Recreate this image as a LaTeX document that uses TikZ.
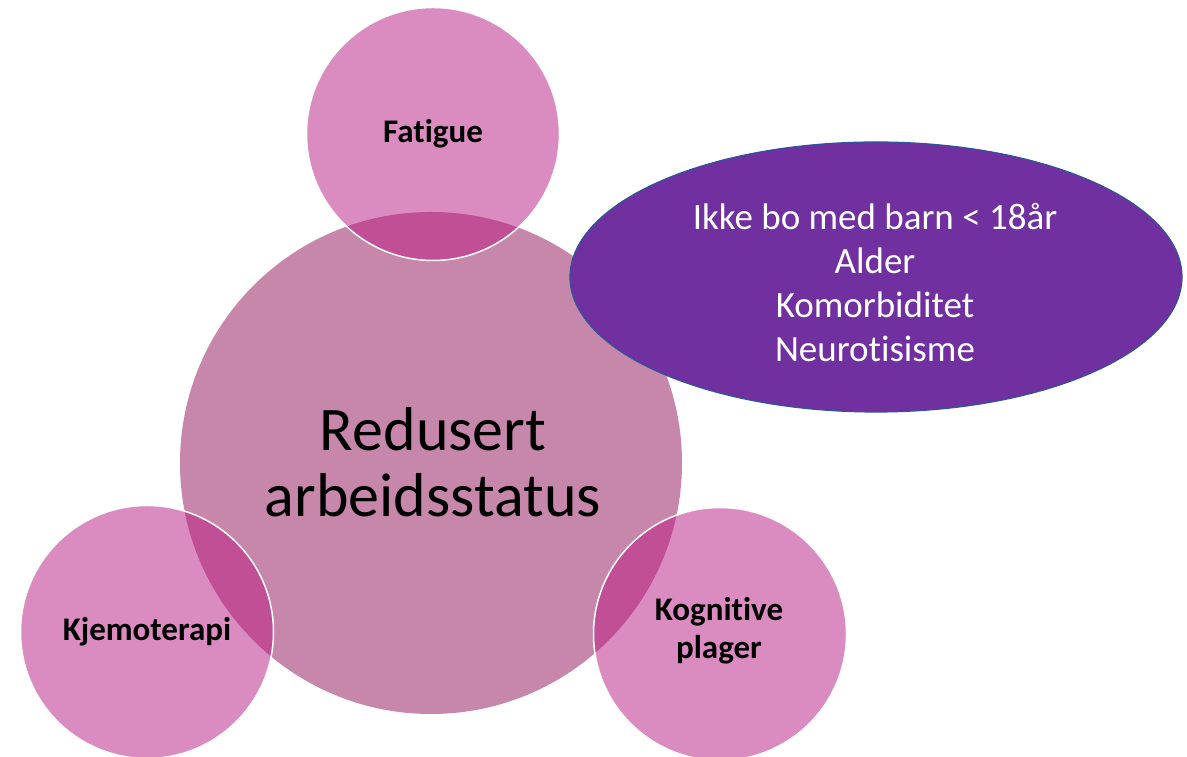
\documentclass[tikz,border=0pt]{standalone}
\usepackage{fontspec}
\setmainfont{Carlito}[Ligatures={NoCommon}]
\usetikzlibrary{shapes.geometric}
\definecolor{maincol}{HTML}{C687AA}
\definecolor{smallcol}{HTML}{DA8BC0}
\definecolor{overcol}{HTML}{C04F96}
\definecolor{ellcol}{HTML}{7030A0}
\definecolor{ellline}{HTML}{2F5597}
\tikzset{
  bigcirc/.style={circle, fill=maincol, minimum size=502pt, inner sep=0pt},
  smallcirc/.style={circle, fill=smallcol, minimum size=253pt, inner sep=0pt},
  ringline/.style={draw=white, line width=1.5pt},
  smalllabel/.style={font=\fontsize{33}{38}\selectfont\bfseries, align=center},
}
\begin{document}
\begin{tikzpicture}[x=1pt,y=1pt]
\useasboundingbox (0,0) rectangle (1187,757);
% main circle
\node[bigcirc] (main) at (431,294) {};
% small circles
\node[smallcirc] (fat) at (433,623) {};
\node[smallcirc] (kje) at (147,125) {};
\node[smallcirc] (kog) at (720,123) {};
% overlaps
\foreach \c in {fat,kje,kog}{
  \begin{scope}
    \clip (main.center) circle (251);
    \fill[overcol] (\c.center) circle (126.5);
  \end{scope}
  \draw[ringline] (\c.center) circle (126.5);
}
% labels
\node[smalllabel] (fatl) at (fat.center) {Fatigue};
\node[smalllabel] (kjel) at (kje.center) {Kjemoterapi};
\node[smalllabel] (kogl) at (719,126) {Kognitive\\plager};
\node[font=\fontsize{62}{66}\selectfont, align=center] (mainl) at (433,295) {Redusert\\arbeidsstatus};
% ellipse
\node[ellipse, fill=ellcol, draw=ellline, line width=1.2pt, minimum width=612pt, minimum height=270pt, inner sep=0pt] (ell) at (876,480) {};
\node[font=\fontsize{37}{44}\selectfont, text=white, align=center] (elll) at (875,474) {Ikke bo med barn < 18år\\Alder\\Komorbiditet\\Neurotisisme};
\end{tikzpicture}
\end{document}
